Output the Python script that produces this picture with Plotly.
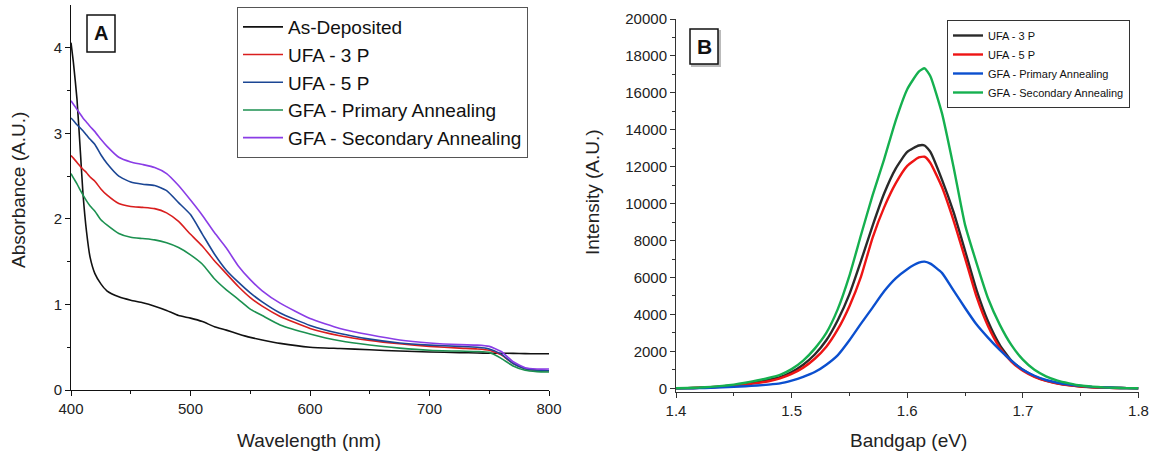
import plotly.graph_objects as go

# ---------------- Panel A data (absorbance) ----------------
wavelength = [400, 402, 405, 408, 410, 413, 416, 420, 425, 430, 440, 450, 460, 470, 480, 490,
              500, 510, 520, 530, 540, 550, 560, 575, 600, 625, 650, 675, 700, 725, 740, 750,
              760, 770, 780, 790, 800]
abs_as_deposited = [4.06, 3.83, 3.40, 2.75, 2.30, 1.85, 1.55, 1.36, 1.24, 1.16, 1.09, 1.05, 1.02, 0.98,
                    0.93, 0.87, 0.84, 0.80, 0.74, 0.70, 0.655, 0.615, 0.585, 0.545, 0.50, 0.485, 0.47,
                    0.455, 0.445, 0.437, 0.433, 0.43, 0.43, 0.428, 0.425, 0.424, 0.424]
abs_ufa_3p = [2.74, 2.71, 2.66, 2.61, 2.58, 2.54, 2.49, 2.44, 2.35, 2.28, 2.18, 2.145, 2.135, 2.12,
              2.07, 1.97, 1.82, 1.68, 1.51, 1.36, 1.21, 1.08, 0.98, 0.86, 0.72, 0.635, 0.58, 0.54,
              0.51, 0.49, 0.48, 0.465, 0.41, 0.31, 0.25, 0.23, 0.225]
abs_ufa_5p = [3.18, 3.15, 3.10, 3.06, 3.03, 2.98, 2.93, 2.87, 2.75, 2.65, 2.50, 2.43, 2.405, 2.39,
              2.33, 2.19, 2.05, 1.82, 1.59, 1.40, 1.26, 1.135, 1.03, 0.90, 0.755, 0.66, 0.595, 0.55,
              0.525, 0.51, 0.50, 0.48, 0.42, 0.31, 0.25, 0.23, 0.225]
abs_gfa_primary = [2.53, 2.48, 2.41, 2.33, 2.28, 2.21, 2.15, 2.09, 1.99, 1.93, 1.83, 1.785, 1.77, 1.755,
                   1.72, 1.665, 1.58, 1.47, 1.30, 1.17, 1.06, 0.945, 0.87, 0.76, 0.655, 0.575, 0.525,
                   0.49, 0.465, 0.455, 0.45, 0.44, 0.37, 0.28, 0.23, 0.215, 0.21]
abs_gfa_secondary = [3.38, 3.34, 3.28, 3.22, 3.18, 3.13, 3.08, 3.02, 2.93, 2.85, 2.72, 2.665, 2.635, 2.60,
                     2.53, 2.39, 2.22, 2.04, 1.84, 1.66, 1.45, 1.29, 1.16, 1.015, 0.835, 0.72, 0.645,
                     0.585, 0.55, 0.53, 0.525, 0.51, 0.45, 0.33, 0.26, 0.245, 0.245]

# ---------------- Panel B data (PL intensity) ----------------
energy = [1.40, 1.41, 1.42, 1.43, 1.44, 1.45, 1.46, 1.47, 1.48, 1.49, 1.50, 1.51, 1.52, 1.53, 1.54,
          1.55, 1.56, 1.57, 1.58, 1.59, 1.60, 1.61, 1.615, 1.62, 1.63, 1.64, 1.65, 1.66, 1.67, 1.68,
          1.69, 1.70, 1.71, 1.72, 1.73, 1.74, 1.75, 1.76, 1.77, 1.78, 1.79, 1.80]
pl_ufa_3p = [0, 10, 30, 60, 100, 150, 230, 330, 450, 600, 880, 1280, 1830, 2600, 3700, 5100, 6900,
             8800, 10550, 11900, 12800, 13150, 13150, 12800, 11300, 9550, 7450, 5300, 3600, 2350,
             1500, 1000, 650, 420, 270, 170, 100, 60, 35, 20, 10, 0]
pl_ufa_5p = [0, 10, 30, 55, 90, 140, 200, 280, 380, 540, 780, 1120, 1600, 2250, 3200, 4450, 6050,
             8150, 9800, 11100, 12050, 12500, 12540, 12200, 10900, 9100, 7050, 4950, 3350, 2200,
             1450, 950, 620, 400, 260, 160, 100, 60, 35, 20, 10, 0]
pl_gfa_primary = [0, 0, 10, 30, 50, 80, 110, 150, 200, 270, 420, 620, 880, 1280, 1800, 2600, 3500,
                  4370, 5250, 5950, 6450, 6800, 6860, 6750, 6250, 5300, 4350, 3450, 2730, 2080,
                  1500, 1000, 680, 450, 300, 200, 130, 80, 50, 30, 10, 0]
pl_gfa_secondary = [0, 20, 40, 80, 130, 200, 300, 420, 560, 730, 1040, 1500, 2150, 3000, 4300, 6100,
                    8300, 10450, 12400, 14500, 16200, 17150, 17330, 16900, 14900, 12000, 8850, 6770,
                    4850, 3450, 2350, 1550, 1000, 650, 420, 270, 150, 90, 50, 30, 10, 0]

names_a = ["As-Deposited", "UFA - 3 P", "UFA - 5 P", "GFA - Primary Annealing", "GFA - Secondary Annealing"]
colors_a = ["#111111", "#d91e1e", "#1b4694", "#1c9150", "#8a3de6"]
series_a = [abs_as_deposited, abs_ufa_3p, abs_ufa_5p, abs_gfa_primary, abs_gfa_secondary]

names_b = ["UFA - 3 P", "UFA - 5 P", "GFA - Primary Annealing", "GFA - Secondary Annealing"]
colors_b = ["#2a2a2a", "#ee1414", "#0b4fcf", "#15b04f"]
series_b = [pl_ufa_3p, pl_ufa_5p, pl_gfa_primary, pl_gfa_secondary]

FONT = "Liberation Sans, Arial, sans-serif"
W, H = 1158, 456

fig = go.Figure()
for n, c, s in zip(names_a, colors_a, series_a):
    fig.add_trace(go.Scatter(x=wavelength, y=s, name=n, mode="lines",
                             line=dict(color=c, width=1.6, shape="spline", smoothing=0.5),
                             xaxis="x", yaxis="y", legend="legend"))
for n, c, s in zip(names_b, colors_b, series_b):
    fig.add_trace(go.Scatter(x=energy, y=s, name=n, mode="lines",
                             line=dict(color=c, width=2.4, shape="spline", smoothing=0.5),
                             xaxis="x2", yaxis="y2", legend="legend2"))


def px(x):
    return x / W


def py(y):
    return (H - y) / H


tickfont = dict(family=FONT, size=15, color="#222222")
axis_common = dict(showgrid=False, zeroline=False, showline=True, ticks="outside", ticklen=5,
                   tickwidth=1, tickfont=tickfont, mirror=False, automargin=False)

fig.update_layout(
    width=W, height=H, margin=dict(l=0, r=0, t=0, b=0, pad=0, autoexpand=False),
    paper_bgcolor="white", plot_bgcolor="white",
    font=dict(family=FONT, color="#111111"),
    xaxis=dict(domain=[px(71), px(549)], range=[400, 800], anchor="y", tickvals=[400, 500, 600, 700, 800],
               linecolor="#111111", tickcolor="#111111",
               minor=dict(tickvals=[450, 550, 650, 750], ticks="outside", ticklen=3, tickcolor="#111111"),
               **axis_common),
    yaxis=dict(domain=[py(390), py(5)], range=[0, 4.5], anchor="x", tickvals=[0, 1, 2, 3, 4],
               linecolor="#111111", tickcolor="#111111",
               minor=dict(tickvals=[0.5, 1.5, 2.5, 3.5], ticks="outside", ticklen=3, tickcolor="#111111"),
               **axis_common),
    xaxis2=dict(domain=[px(676), px(1138.5)], range=[1.4, 1.8], anchor="y2",
                tickvals=[1.4, 1.5, 1.6, 1.7, 1.8], ticktext=["1.4", "1.5", "1.6", "1.7", "1.8"],
                linecolor="#333333", tickcolor="#333333",
                minor=dict(tickvals=[1.45, 1.55, 1.65, 1.75], ticks="outside", ticklen=3, tickcolor="#333333"),
                **axis_common),
    yaxis2=dict(domain=[py(392), py(19)], range=[-200, 20000], anchor="x2",
                tickvals=list(range(0, 20001, 2000)), tickformat="d",
                linecolor="#333333", tickcolor="#333333",
                minor=dict(tickvals=list(range(1000, 20000, 2000)), ticks="outside", ticklen=3, tickcolor="#333333"),
                **axis_common),
    legend=dict(x=px(237), y=py(7), xanchor="left", yanchor="top", bgcolor="white",
                bordercolor="#555555", borderwidth=1, font=dict(family=FONT, size=19, color="#111111"),
                tracegroupgap=0, itemwidth=40),
    legend2=dict(x=px(947), y=py(20), xanchor="left", yanchor="top", bgcolor="white",
                 bordercolor="#333333", borderwidth=1, font=dict(family=FONT, size=11, color="#111111"),
                 tracegroupgap=0, itemwidth=30),
    showlegend=True,
)

# Axis titles
title_font = dict(family=FONT, size=19, color="#222222")
fig.add_annotation(x=px(309), y=py(440), xref="paper", yref="paper", text="Wavelength (nm)",
                   showarrow=False, font=title_font, xanchor="center", yanchor="middle")
fig.add_annotation(x=px(19), y=py(190), xref="paper", yref="paper", text="Absorbance (A.U.)",
                   showarrow=False, textangle=-90, font=title_font, xanchor="center", yanchor="middle")
fig.add_annotation(x=px(908), y=py(440), xref="paper", yref="paper", text="Bandgap (eV)",
                   showarrow=False, font=title_font, xanchor="center", yanchor="middle")
fig.add_annotation(x=px(592), y=py(192), xref="paper", yref="paper", text="Intensity (A.U.)",
                   showarrow=False, textangle=-90, font=title_font, xanchor="center", yanchor="middle")

# Panel labels in boxes
fig.add_shape(type="rect", xref="paper", yref="paper", x0=px(87), x1=px(115), y0=py(52), y1=py(15),
              line=dict(color="#111111", width=1.5), fillcolor="white")
fig.add_annotation(x=px(101), y=py(33.5), xref="paper", yref="paper", text="<b>A</b>", showarrow=False,
                   font=dict(family=FONT, size=20, color="#111111"), xanchor="center", yanchor="middle")
fig.add_shape(type="rect", xref="paper", yref="paper", x0=px(692), x1=px(720), y0=py(66), y1=py(31),
              line=dict(color="#bbbbbb", width=2), fillcolor="#bbbbbb")
fig.add_shape(type="rect", xref="paper", yref="paper", x0=px(690), x1=px(718), y0=py(64), y1=py(29),
              line=dict(color="#111111", width=1.5), fillcolor="white")
fig.add_annotation(x=px(704), y=py(46.5), xref="paper", yref="paper", text="<b>B</b>", showarrow=False,
                   font=dict(family=FONT, size=21, color="#111111"), xanchor="center", yanchor="middle")

fig.write_html("out.html")
